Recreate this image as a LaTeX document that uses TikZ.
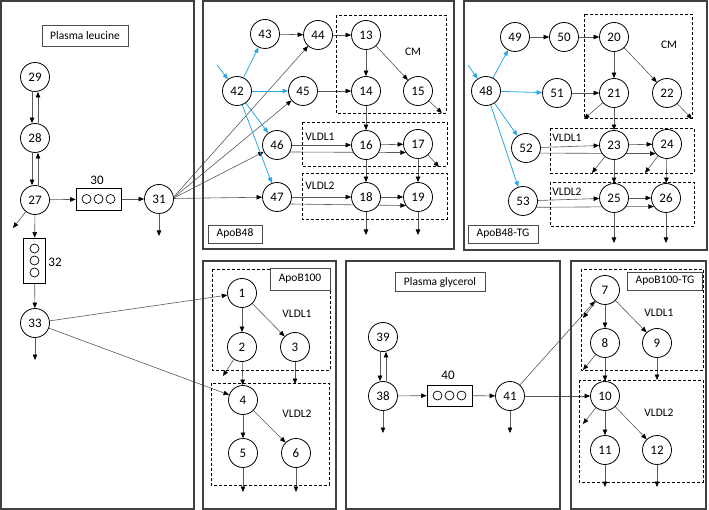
\documentclass[tikz,border=0pt]{standalone}
\usepackage{fontspec}
\setmainfont{Carlito}
\usetikzlibrary{arrows.meta}
\definecolor{cyanl}{HTML}{2AA8E0}
\pgfdeclarelayer{bg}
\pgfsetlayers{bg,main}
\begin{document}
\begin{tikzpicture}[x=1pt,y=-1pt,
  num/.style={circle,draw=black,line width=0.8pt,fill=white,minimum size=29pt,inner sep=0pt,font=\fontsize{13}{15}\selectfont},
  conn/.style={draw=black!65,line width=0.6pt,-{Triangle[length=5.5pt,width=4.5pt,color=black]}},
  bconn/.style={draw=cyanl,line width=0.8pt,-{Triangle[length=5.5pt,width=4.5pt,color=cyanl]}},
  outer/.style={draw=black!75,line width=1.2pt},
  lbl/.style={draw=black!70,line width=0.8pt,fill=white,inner sep=0pt,font=\fontsize{11.5}{13}\selectfont},
  dbox/.style={draw=black,dash pattern=on 3pt off 2pt,line width=0.8pt},
  tag/.style={font=\fontsize{11.5}{13}\selectfont,inner sep=0pt},
  poolbox/.style={draw=black,line width=0.8pt,fill=white,inner sep=0pt},
  dot/.style={draw=black,line width=0.7pt}
]
\useasboundingbox (0,0) rectangle (709,510);
% outer panels
\draw[outer] (1,1) rectangle (194,509);
\draw[outer] (203,1) rectangle (454,249);
\draw[outer] (464,1) rectangle (707,250);
\draw[outer] (203,261) rectangle (336,509);
\draw[outer] (346,261) rectangle (560,509);
\draw[outer] (571,261) rectangle (706,509);
% dashed compartments
\draw[dbox] (336,15) rectangle (446,113);
\draw[dbox] (302,122) rectangle (447,166);
\draw[dbox] (302,173) rectangle (447,219);
\draw[dbox] (584,14) rectangle (692,118);
\draw[dbox] (550,128) rectangle (694,173);
\draw[dbox] (550,182) rectangle (694,226);
\draw[dbox] (212,269) rectangle (330,370);
\draw[dbox] (211,383) rectangle (329,485);
\draw[dbox] (581,269) rectangle (703,370);
\draw[dbox] (579,380) rectangle (703,482);
% panel labels
\node[lbl,minimum width=86pt,minimum height=21pt] (Lleu) at (85,36) {Plasma leucine};
\node[lbl,minimum width=54pt,minimum height=18pt] (Lb48) at (235,234) {ApoB48};
\node[lbl,minimum width=70pt,minimum height=18pt] (Lb48tg) at (503,234) {ApoB48-TG};
\node[lbl,minimum width=60pt,minimum height=22pt] (Lb100) at (300,279) {ApoB100};
\node[lbl,minimum width=90pt,minimum height=19pt] (Lgly) at (440,282) {Plasma glycerol};
\node[lbl,minimum width=75pt,minimum height=18pt] (Lb100tg) at (665,281) {ApoB100-TG};
% compartment labels
\node[tag] (t1) at (413,52) {CM};
\node[tag] (t2) at (320,137) {VLDL1};
\node[tag] (t3) at (320,186) {VLDL2};
\node[tag] (t4) at (669,45) {CM};
\node[tag] (t5) at (567,138) {VLDL1};
\node[tag] (t6) at (567,192) {VLDL2};
\node[tag] (t7) at (297,314) {VLDL1};
\node[tag] (t8) at (297,414) {VLDL2};
\node[tag] (t9) at (659,313) {VLDL1};
\node[tag] (t10) at (659,413) {VLDL2};
% plasma leucine
\node[num] (n29) at (35,77) {29};
\node[num] (n28) at (35,138) {28};
\node[num] (n27) at (35,200) {27};
\node[num] (n31) at (159,199) {31};
\node[num] (n33) at (35,323) {33};
\node[poolbox,minimum width=45pt,minimum height=22pt] (n30) at (98.5,199) {};
\foreach \dx in {-12,0,12} \draw[dot] (98.5+\dx,199) circle (4.5);
\node[tag,font=\fontsize{13}{15}\selectfont] (l30) at (97,180) {30};
\node[poolbox,minimum width=22pt,minimum height=45pt] (n32) at (34.5,260.5) {};
\foreach \dy in {-12,0,12} \draw[dot] (34.5,260.5+\dy) circle (4.5);
\node[tag,font=\fontsize{13}{15}\selectfont] (l32) at (55,262) {32};
% ApoB48
\node[num] (n43) at (265,34) {43};
\node[num] (n44) at (318,35) {44};
\node[num] (n13) at (366,35) {13};
\node[num] (n42) at (237,91) {42};
\node[num] (n45) at (303,91) {45};
\node[num] (n14) at (366,91) {14};
\node[num] (n15) at (418,91) {15};
\node[num] (n46) at (277,145) {46};
\node[num] (n16) at (366,145) {16};
\node[num] (n17) at (418,144) {17};
\node[num] (n47) at (277,197) {47};
\node[num] (n18) at (366,197) {18};
\node[num] (n19) at (418,197) {19};
% ApoB48-TG
\node[num] (n49) at (515,37) {49};
\node[num] (n50) at (564,37) {50};
\node[num] (n20) at (614,37) {20};
\node[num] (n48) at (486,91) {48};
\node[num] (n51) at (557,93) {51};
\node[num] (n21) at (614,93) {21};
\node[num] (n22) at (667,93) {22};
\node[num] (n52) at (526,148) {52};
\node[num] (n23) at (614,145) {23};
\node[num] (n24) at (667,144) {24};
\node[num] (n53) at (523,201) {53};
\node[num] (n25) at (614,198) {25};
\node[num] (n26) at (666,198) {26};
% ApoB100
\node[num] (n1) at (242,293) {1};
\node[num] (n2) at (242,347) {2};
\node[num] (n3) at (295,347) {3};
\node[num] (n4) at (243,400) {4};
\node[num] (n5) at (243,453) {5};
\node[num] (n6) at (296,453) {6};
% plasma glycerol
\node[num] (n39) at (383,337) {39};
\node[num] (n38) at (383,396) {38};
\node[poolbox,minimum width=45pt,minimum height=21pt] (n40) at (449.5,395.5) {};
\foreach \dx in {-12,0,12} \draw[dot] (449.5+\dx,395.5) circle (4.5);
\node[tag,font=\fontsize{13}{15}\selectfont] (l40) at (448,375) {40};
\node[num] (n41) at (510,396) {41};
% ApoB100-TG
\node[num] (n7) at (605,290) {7};
\node[num] (n8) at (605,343) {8};
\node[num] (n9) at (657,343) {9};
\node[num] (n10) at (605,396) {10};
\node[num] (n11) at (605,450) {11};
\node[num] (n12) at (657,450) {12};
% free ends
\coordinate (e27) at (13,228);
\coordinate (e33) at (35,360);
\coordinate (e31) at (159,236);
\coordinate (e15) at (442,113);
\coordinate (e17) at (439,167);
\coordinate (e18) at (366,235);
\coordinate (e19) at (418,235);
\coordinate (in42) at (217,65);
\coordinate (in48) at (468,65);
\coordinate (e21) at (584,119);
\coordinate (e22) at (692,119);
\coordinate (e23) at (592,173);
\coordinate (e24) at (645,173);
\coordinate (e25) at (614,243);
\coordinate (e26) at (666,243);
\coordinate (e2) at (223,376);
\coordinate (e3) at (295,384);
\coordinate (e5) at (243,492);
\coordinate (e6) at (296,492);
\coordinate (e38) at (383,433);
\coordinate (e41) at (510,433);
\coordinate (e7) at (583,318);
\coordinate (e8) at (583,370);
\coordinate (e9) at (657,380);
\coordinate (e10) at (583,424);
\coordinate (e11) at (605,487);
\coordinate (e12) at (657,487);
\begin{pgfonlayer}{bg}
% leucine
\draw[conn] ([xshift=-3pt]n29.south) -- ([xshift=-3pt]n28.north);
\draw[conn] ([xshift=3pt]n28.north) -- ([xshift=3pt]n29.south);
\draw[conn] ([xshift=-3pt]n28.south) -- ([xshift=-3pt]n27.north);
\draw[conn] ([xshift=3pt]n27.north) -- ([xshift=3pt]n28.south);
\draw[conn] (n27) -- (n30);
\draw[conn] (n30) -- (n31);
\draw[conn] (n27) -- (e27);
\draw[conn] (n27) -- (n32);
\draw[conn] (n32) -- (n33);
\draw[conn] (n33) -- (e33);
\draw[conn] (n31) -- (e31);
\draw[conn] (n31.8) -- (n44);
\draw[conn] (n31.6) -- (n45);
\draw[conn] (n31.4) -- (n46);
\draw[conn] (n31.2) -- (n47);
\draw[conn] (n33) -- (n1);
\draw[conn] (n33) -- (n4);
% ApoB48
\draw[conn] (n43) -- (n44);
\draw[conn] (n44) -- (n13);
\draw[conn] (n13) -- (n14);
\draw[conn] (n13) -- (n15);
\draw[conn] (n45) -- (n14);
\draw[conn] (n14) -- (n16);
\draw[conn] (n46) -- (n16);
\draw[conn] (n46.-28) -- (n17.215);
\draw[conn] (n16) -- (n17);
\draw[conn] (n16) -- (n18);
\draw[conn] (n17) -- (n19);
\draw[conn] (n47) -- (n18);
\draw[conn] (n47.-28) -- (n19.215);
\draw[conn] (n18) -- (n19);
\draw[conn] (n15) -- (e15);
\draw[conn] (n17) -- (e17);
\draw[conn] (n18) -- (e18);
\draw[conn] (n19) -- (e19);
\draw[bconn] (in42) -- (n42);
\draw[bconn] (n42) -- (n43);
\draw[bconn] (n42) -- (n45);
\draw[bconn] (n42) -- (n46);
\draw[bconn] (n42) -- (n47);
% ApoB48-TG
\draw[conn] (n49) -- (n50);
\draw[conn] (n50) -- (n20);
\draw[conn] (n20) -- (n21);
\draw[conn] (n20) -- (n22);
\draw[conn] (n51) -- (n21);
\draw[conn] (n21) -- (n23);
\draw[conn] (n52) -- (n23);
\draw[conn] (n52.-20) -- (n24.220);
\draw[conn] (n23) -- (n24);
\draw[conn] (n23) -- (n25);
\draw[conn] (n24) -- (n26);
\draw[conn] (n53) -- (n25);
\draw[conn] (n53.-25) -- (n26.215);
\draw[conn] (n25) -- (n26);
\draw[conn] (n21) -- (e21);
\draw[conn] (n22) -- (e22);
\draw[conn] (n23) -- (e23);
\draw[conn] (n24) -- (e24);
\draw[conn] (n25) -- (e25);
\draw[conn] (n26) -- (e26);
\draw[bconn] (in48) -- (n48);
\draw[bconn] (n48) -- (n49);
\draw[bconn] (n48) -- (n51);
\draw[bconn] (n48) -- (n52);
\draw[bconn] (n48) -- (n53);
% ApoB100
\draw[conn] (n1) -- (n2);
\draw[conn] (n1) -- (n3);
\draw[conn] (n2) -- (n4);
\draw[conn] (n4) -- (n5);
\draw[conn] (n4) -- (n6);
\draw[conn] (n2) -- (e2);
\draw[conn] (n3) -- (e3);
\draw[conn] (n5) -- (e5);
\draw[conn] (n6) -- (e6);
% glycerol
\draw[conn] ([xshift=-3pt]n39.south) -- ([xshift=-3pt]n38.north);
\draw[conn] ([xshift=3pt]n38.north) -- ([xshift=3pt]n39.south);
\draw[conn] (n38) -- (n40);
\draw[conn] (n40) -- (n41);
\draw[conn] (n38) -- (e38);
\draw[conn] (n41) -- (e41);
\draw[conn] (n41) -- (n7);
\draw[conn] (n41) -- (n10);
% ApoB100-TG
\draw[conn] (n7) -- (n8);
\draw[conn] (n7) -- (n9);
\draw[conn] (n8) -- (n10);
\draw[conn] (n10) -- (n11);
\draw[conn] (n10) -- (n12);
\draw[conn] (n7) -- (e7);
\draw[conn] (n8) -- (e8);
\draw[conn] (n9) -- (e9);
\draw[conn] (n10) -- (e10);
\draw[conn] (n11) -- (e11);
\draw[conn] (n12) -- (e12);
\end{pgfonlayer}
\end{tikzpicture}
\end{document}
